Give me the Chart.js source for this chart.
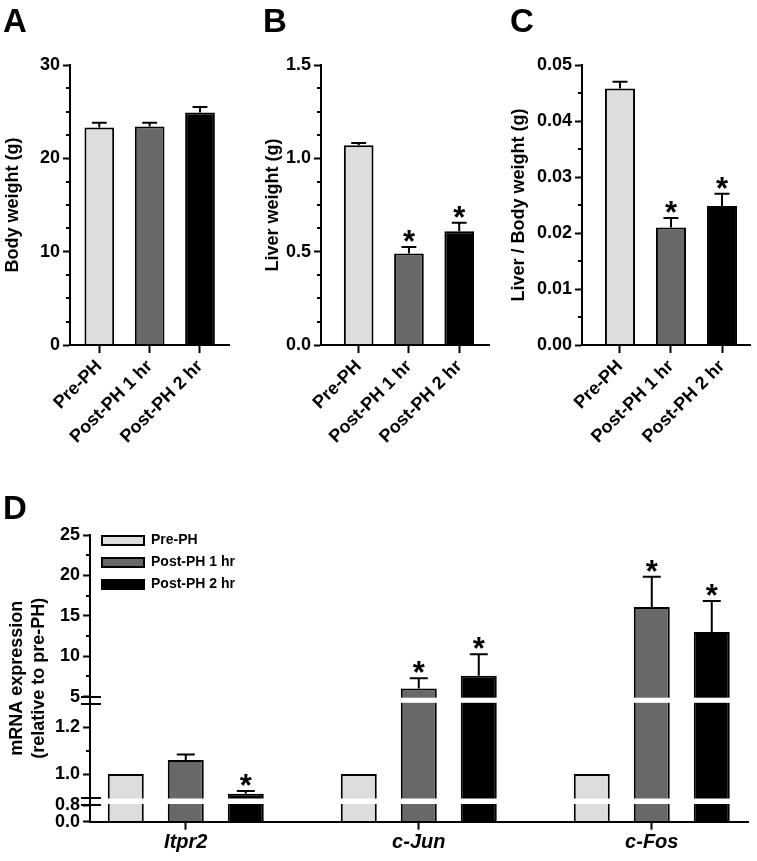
<!DOCTYPE html>
<html>
<head>
<meta charset="utf-8">
<script src="https://cdn.jsdelivr.net/npm/chart.js@4.4.1/dist/chart.umd.min.js"></script>
<style>
html,body{margin:0;padding:0;background:#fff;}
#fig{position:relative;width:757px;height:861px;overflow:hidden;background:#fff;}
canvas{position:absolute;}
.panel{position:absolute;font-family:Arial,"Liberation Sans",Helvetica,sans-serif;font-weight:bold;font-size:33px;line-height:33px;color:#000;z-index:2;}
</style>
</head>
<body>
<div id="fig">
<canvas id="chartA" width="245" height="450" style="left:0px;top:0px"></canvas>
<canvas id="chartB" width="255" height="450" style="left:250px;top:0px"></canvas>
<canvas id="chartC" width="252" height="450" style="left:505px;top:0px"></canvas>
<canvas id="chartD" width="757" height="401" style="left:0px;top:460px"></canvas>
<div class="panel" style="left:3px;top:4px">A</div>
<div class="panel" style="left:263px;top:4px">B</div>
<div class="panel" style="left:510px;top:4px">C</div>
<div class="panel" style="left:3px;top:491px">D</div>
</div>
<script>
// ---------------- data ----------------
const GROUPS = ['Pre-PH', 'Post-PH 1 hr', 'Post-PH 2 hr'];

const BODY_WEIGHT = [23.3, 23.4, 24.9];
const BODY_WEIGHT_SEM = [0.5, 0.4, 0.6];
const BODY_WEIGHT_SIG = [false, false, false];

const LIVER_WEIGHT = [1.07, 0.49, 0.61];
const LIVER_WEIGHT_SEM = [0.012, 0.035, 0.045];
const LIVER_WEIGHT_SIG = [false, true, true];

const LIVER_BODY_RATIO = [0.0458, 0.0210, 0.0248];
const LIVER_BODY_RATIO_SEM = [0.0012, 0.0017, 0.0022];
const LIVER_BODY_RATIO_SIG = [false, true, true];

const A_Y_TICKS = [0, 10, 20, 30];
const A_Y_LABELS = ['0', '10', '20', '30'];
const A_Y_MINOR = [2.5, 5, 7.5, 12.5, 15, 17.5, 22.5, 25, 27.5];
const B_Y_TICKS = [0, 0.5, 1.0, 1.5];
const B_Y_LABELS = ['0.0', '0.5', '1.0', '1.5'];
const B_Y_MINOR = [0.125, 0.25, 0.375, 0.625, 0.75, 0.875, 1.125, 1.25, 1.375];
const C_Y_TICKS = [0, 0.01, 0.02, 0.03, 0.04, 0.05];
const C_Y_LABELS = ['0.00', '0.01', '0.02', '0.03', '0.04', '0.05'];
const C_Y_MINOR = [0.005, 0.015, 0.025, 0.035, 0.045];

const GENES = ['Itpr2', 'c-Jun', 'c-Fos'];
const MRNA_PRE = [1.0, 1.0, 1.0];
const MRNA_PRE_SEM = [0, 0, 0];
const MRNA_PRE_SIG = [false, false, false];
const MRNA_1HR = [1.06, 6.0, 16.1];
const MRNA_1HR_SEM = [0.024, 1.27, 3.75];
const MRNA_1HR_SIG = [false, true, true];
const MRNA_2HR = [0.916, 7.6, 13.0];
const MRNA_2HR_SEM = [0.012, 2.65, 3.84];
const MRNA_2HR_SIG = [true, true, true];

const D_Y_TICKS = [0, 0.8, 1.0, 1.2, 5, 10, 15, 20, 25];
const D_Y_LABELS = ['0.0', '0.8', '1.0', '1.2', '5', '10', '15', '20', '25'];
const D_Y_MINOR = [1.1, 7.5, 12.5, 17.5, 22.5];
const D_Y_BREAK_MARKS = [0.8, 0.9, 1.3, 5];
const D_Y_GAPS = [[0.8, 0.9], [1.3, 5]];

// ---------------- style / layout ----------------
const FILL = ['#dddddd', '#686868', '#000000'];
const FONT = 'Arial, "Liberation Sans", Helvetica, sans-serif';
Chart.defaults.font.family = FONT;
Chart.defaults.color = '#000';
Chart.defaults.animation = false;

// broken y axis: value ranges and their share of the axis length
const D_AXIS_SEGMENTS = [
  {from: 0, to: 0.8, size: 16.7},
  {from: 0.8, to: 0.9, size: 7.5},
  {from: 0.9, to: 1.3, size: 93.7},
  {from: 1.3, to: 5, size: 7.1},
  {from: 5, to: 25, size: 161.7}
];

class BrokenLinearScale extends Chart.LinearScale {
  _segTotal() { return D_AXIS_SEGMENTS.reduce((s, g) => s + g.size, 0); }
  getPixelForValue(value) {
    const H = this.bottom - this.top, total = this._segTotal();
    let acc = 0;
    for (const g of D_AXIS_SEGMENTS) {
      if (value <= g.to) {
        const f = Math.max(0, (value - g.from) / (g.to - g.from));
        return this.bottom - (acc + f * g.size) / total * H;
      }
      acc += g.size;
    }
    return this.top;
  }
  getValueForPixel(pixel) {
    const H = this.bottom - this.top, total = this._segTotal();
    const d = (this.bottom - pixel) / H * total;
    let acc = 0;
    for (const g of D_AXIS_SEGMENTS) {
      if (d <= acc + g.size) return g.from + (d - acc) / g.size * (g.to - g.from);
      acc += g.size;
    }
    return D_AXIS_SEGMENTS[D_AXIS_SEGMENTS.length - 1].to;
  }
}
BrokenLinearScale.id = 'brokenLinear';
BrokenLinearScale.defaults = Chart.LinearScale.defaults;
Chart.register(BrokenLinearScale);

function decorPlugin(minor) {
  return {
    id: 'decor',
    afterDatasetsDraw(chart) {
      const ctx = chart.ctx, ys = chart.scales.y;
      chart.data.datasets.forEach((ds, d) => {
        const meta = chart.getDatasetMeta(d);
        meta.data.forEach((bar, i) => {
          const v = ds.data[i].y;
          const e = ds.errors ? ds.errors[i] : 0;
          const yTop = ys.getPixelForValue(v + e);
          ctx.save();
          ctx.strokeStyle = '#000';
          ctx.lineWidth = 2;
          if (e > 0) {
            const half = bar.width / 4;
            ctx.beginPath();
            ctx.moveTo(bar.x, bar.y);
            ctx.lineTo(bar.x, yTop);
            ctx.moveTo(bar.x - half, yTop);
            ctx.lineTo(bar.x + half, yTop);
            ctx.stroke();
          }
          if (ds.sig && ds.sig[i]) {
            ctx.fillStyle = '#000';
            ctx.font = 'bold 31px ' + FONT;
            ctx.textAlign = 'center';
            ctx.textBaseline = 'alphabetic';
            const m = ctx.measureText('*');
            const cy = yTop - 11;
            ctx.fillText('*', bar.x, cy + (m.actualBoundingBoxAscent - m.actualBoundingBoxDescent) / 2);
          }
          ctx.restore();
        });
      });
    },
    afterDraw(chart) {
      const ctx = chart.ctx, ys = chart.scales.y, x = chart.chartArea.left;
      ctx.save();
      ctx.strokeStyle = '#000';
      ctx.lineWidth = 2;
      ctx.beginPath();
      minor.forEach(v => {
        const y = Math.round(ys.getPixelForValue(v));
        ctx.moveTo(x - 4, y);
        ctx.lineTo(x, y);
      });
      ctx.stroke();
      ctx.restore();
    }
  };
}

function topPanel(id, geo, values, sems, sig, yTicks, yLabels, yMinor, yMax, title) {
  return new Chart(document.getElementById(id), {
    type: 'bar',
    data: {
      datasets: [{
        data: values.map((v, i) => ({x: i + 1, y: v})),
        backgroundColor: FILL,
        borderColor: '#000',
        borderWidth: 2,
        categoryPercentage: 1,
        barPercentage: 0.59,
        errors: sems,
        sig: sig
      }]
    },
    options: {
      responsive: false,
      animation: false,
      events: [],
      layout: {padding: {top: 65, right: geo.padRight, bottom: 0, left: 0}},
      plugins: {legend: {display: false}, tooltip: {enabled: false}},
      scales: {
        x: {
          type: 'linear', min: geo.xmin, max: geo.xmax, offset: false,
          grid: {offset: false, drawOnChartArea: false, drawTicks: true, tickLength: 8, tickWidth: 2, tickColor: '#000', z: 1},
          border: {display: true, color: '#000', width: 2, z: 1},
          afterBuildTicks: s => { s.ticks = GROUPS.map((_, i) => ({value: i + 1})); },
          ticks: {autoSkip: false, minRotation: 45, maxRotation: 45, padding: 3, color: '#000',
                  font: {size: 18, weight: 'bold'}, callback: v => GROUPS[Math.round(v) - 1]},
          afterFit: s => { s.height = 105; }
        },
        y: {
          type: 'linear', min: 0, max: yMax,
          grid: {drawOnChartArea: false, drawTicks: true, tickLength: 7, tickWidth: 2, tickColor: '#000', z: 1},
          border: {display: true, color: '#000', width: 2, z: 1},
          afterBuildTicks: s => { s.ticks = yTicks.map(v => ({value: v})); },
          ticks: {padding: 3, color: '#000', font: {size: 18, weight: 'bold'}, callback: (v, i) => yLabels[i]},
          title: {display: true, text: title, color: '#000', font: {size: 18, weight: 'bold'},
                  padding: {top: geo.titlePad, bottom: 0}},
          afterFit: s => { s.width = geo.axisW; }
        }
      }
    },
    plugins: [decorPlugin(yMinor)]
  });
}

topPanel('chartA', {axisW: 70, padRight: 16, titlePad: 2.7, xmin: 0.418, xmax: 3.576},
  BODY_WEIGHT, BODY_WEIGHT_SEM, BODY_WEIGHT_SIG, A_Y_TICKS, A_Y_LABELS, A_Y_MINOR, 30, 'Body weight (g)');
topPanel('chartB', {axisW: 71, padRight: 16, titlePad: 12.2, xmin: 0.25, xmax: 3.593},
  LIVER_WEIGHT, LIVER_WEIGHT_SEM, LIVER_WEIGHT_SIG, B_Y_TICKS, B_Y_LABELS, B_Y_MINOR, 1.5, 'Liver weight (g)');
topPanel('chartC', {axisW: 77, padRight: 7, titlePad: 3, xmin: 0.255, xmax: 3.549},
  LIVER_BODY_RATIO, LIVER_BODY_RATIO_SEM, LIVER_BODY_RATIO_SIG, C_Y_TICKS, C_Y_LABELS, C_Y_MINOR, 0.05, 'Liver / Body weight (g)');

// ---------------- panel D ----------------
const breaksPlugin = {
  id: 'breaks',
  afterDatasetsDraw(chart) {
    const ctx = chart.ctx, ys = chart.scales.y, a = chart.chartArea;
    ctx.save();
    ctx.fillStyle = '#fff';
    D_Y_GAPS.forEach(([lo, hi]) => {
      const yHi = ys.getPixelForValue(hi), yLo = ys.getPixelForValue(lo);
      ctx.fillRect(a.left + 2, yHi + 1, a.right - a.left, (yLo - yHi) - 2);
    });
    ctx.restore();
  },
  afterDraw(chart) {
    const ctx = chart.ctx, ys = chart.scales.y, x = chart.chartArea.left;
    ctx.save();
    ctx.strokeStyle = '#000';
    ctx.lineWidth = 2;
    ctx.beginPath();
    D_Y_BREAK_MARKS.forEach(v => {
      const y = Math.round(ys.getPixelForValue(v));
      ctx.moveTo(x - 9, y);
      ctx.lineTo(x + 11, y);
    });
    ctx.stroke();
    ctx.restore();
  }
};

const legendPlace = {
  id: 'legendPlace',
  afterLayout(chart) {
    const lg = chart.legend, a = chart.chartArea;
    if (!lg) return;
    const w = lg.width, h = lg.height;
    lg.left = a.left + 4;
    lg.top = a.top - 9.5;
    lg.right = lg.left + w;
    lg.bottom = lg.top + h;
  }
};

function geneDataset(label, values, sems, sig, color) {
  return {
    label: label,
    data: values.map((v, i) => ({x: i + 1, y: v})),
    backgroundColor: color,
    borderColor: '#000',
    borderWidth: 2,
    categoryPercentage: 0.7725,
    barPercentage: 0.6,
    errors: sems,
    sig: sig
  };
}

new Chart(document.getElementById('chartD'), {
  type: 'bar',
  data: {
    datasets: [
      geneDataset(GROUPS[0], MRNA_PRE, MRNA_PRE_SEM, MRNA_PRE_SIG, FILL[0]),
      geneDataset(GROUPS[1], MRNA_1HR, MRNA_1HR_SEM, MRNA_1HR_SIG, FILL[1]),
      geneDataset(GROUPS[2], MRNA_2HR, MRNA_2HR_SEM, MRNA_2HR_SIG, FILL[2])
    ]
  },
  options: {
    responsive: false,
    animation: false,
    events: [],
    layout: {padding: {top: 75, right: 9, bottom: 0, left: 0}},
    plugins: {
      tooltip: {enabled: false},
      legend: {
        position: 'chartArea', align: 'start',
        labels: {boxWidth: 42, boxHeight: 9, padding: 8, color: '#000', font: {size: 14, weight: 'bold'}}
      }
    },
    scales: {
      x: {
        type: 'linear', min: 0.589, max: 3.413, offset: false,
        grid: {offset: false, drawOnChartArea: false, drawTicks: true, tickLength: 8, tickWidth: 2, tickColor: '#000', z: 1},
        border: {display: true, color: '#000', width: 2, z: 1},
        afterBuildTicks: s => { s.ticks = GENES.map((_, i) => ({value: i + 1})); },
        ticks: {autoSkip: false, minRotation: 0, maxRotation: 0, padding: 1, color: '#000',
                font: {size: 20, weight: 'bold', style: 'italic'}, callback: v => GENES[Math.round(v) - 1]},
        afterFit: s => { s.height = 39.3; }
      },
      y: {
        type: 'brokenLinear', min: 0, max: 25,
        grid: {drawOnChartArea: false, drawTicks: true, tickLength: 7, tickWidth: 2, tickColor: '#000', z: 1},
        border: {display: true, color: '#000', width: 2, z: 1},
        afterBuildTicks: s => { s.ticks = D_Y_TICKS.map(v => ({value: v})); },
        ticks: {padding: 3, color: '#000', font: {size: 18, weight: 'bold'}, callback: (v, i) => D_Y_LABELS[i]},
        title: {display: true, text: ['mRNA expression', '(relative to pre-PH)'], color: '#000',
                font: {size: 18, weight: 'bold'}, padding: {top: 6.7, bottom: 0}},
        afterFit: s => { s.width = 90; }
      }
    }
  },
  plugins: [decorPlugin(D_Y_MINOR), breaksPlugin, legendPlace]
});
</script>
</body>
</html>
